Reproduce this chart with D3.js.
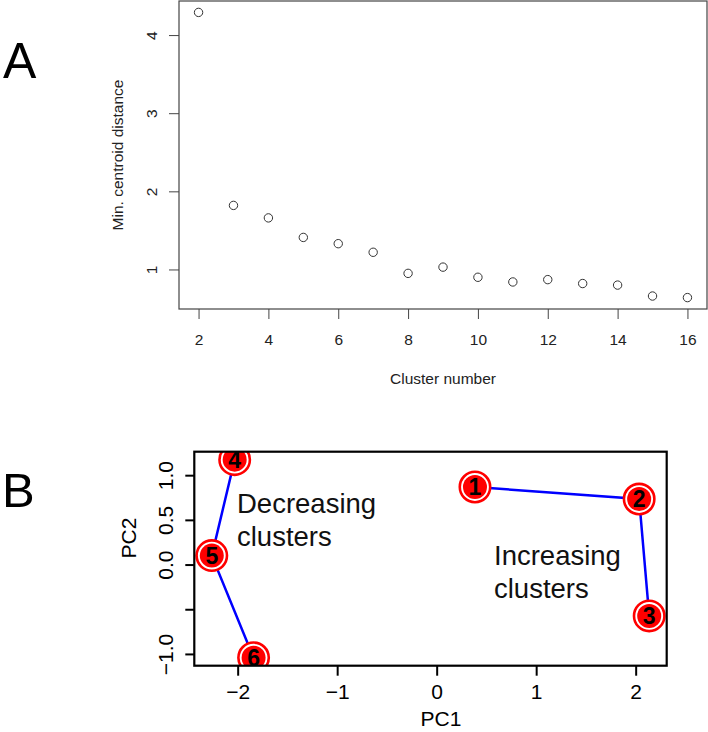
<!DOCTYPE html>
<html>
<head>
<meta charset="utf-8">
<script src="https://cdn.jsdelivr.net/npm/d3@7"></script>
<style>
  body { margin: 0; background: #fff; }
  svg { font-family: "Liberation Sans", Arial, Helvetica, sans-serif; display: block; }
</style>
</head>
<body>
<div id="chart"></div>
<script>
// Panel A data: minimum centroid distance per cluster number
const clusterNumbers = [2, 3, 4, 5, 6, 7, 8, 9, 10, 11, 12, 13, 14, 15, 16];
const minCentroidDist = [4.29, 1.82, 1.66, 1.41, 1.33, 1.22, 0.95, 1.03, 0.90, 0.84, 0.87, 0.82, 0.80, 0.66, 0.64];
const xTicksA = [2, 4, 6, 8, 10, 12, 14, 16];
const yTicksA = [1, 2, 3, 4];

// Panel B data: cluster centroids on PC1 / PC2
const clusterIds = [1, 2, 3, 4, 5, 6];
const pc1 = [0.385, 2.035, 2.136, -2.03, -2.26, -1.84];
const pc2 = [0.868, 0.733, -0.575, 1.174, 0.10, -1.043];
const groups = [[1, 2, 3], [4, 5, 6]];
const xTicksB = [-2, -1, 0, 1, 2];
const yTicksB = [-1.0, -0.5, 0.0, 0.5, 1.0];
const yLabelsB = { '-1': '\u22121.0', '0': '0.0', '0.5': '0.5', '1': '1.0' };

const width = 708;
const height = 732;

// R style range: data extent padded 4% on each side
function rDomain(vals) {
    const [lo, hi] = d3.extent(vals);
    const pad = (hi - lo) * 0.04;
    return [lo - pad, hi + pad];
}

const svg = d3.select('#chart')
    .append('svg')
    .attr('width', width)
    .attr('height', height);

// ---------- Panel A ----------
const boxA = { left: 179, right: 707, top: 1, bottom: 309 };

const xA = d3.scaleLinear()
    .domain(rDomain(clusterNumbers))
    .range([boxA.left, boxA.right]);

const yA = d3.scaleLinear()
    .domain(rDomain(minCentroidDist))
    .range([boxA.bottom, boxA.top]);

const gA = svg.append('g');

const xAxisA = gA.append('g')
    .attr('transform', `translate(0, ${boxA.bottom})`)
    .call(d3.axisBottom(xA).tickValues(xTicksA).tickSize(10).tickFormat(d3.format('d')));

const yAxisA = gA.append('g')
    .attr('transform', `translate(${boxA.left}, 0)`)
    .call(d3.axisLeft(yA).tickValues(yTicksA).tickSize(10).tickFormat(d3.format('d')));

[xAxisA, yAxisA].forEach(ax => {
    ax.select('.domain').remove();
    ax.selectAll('line').attr('stroke', '#444').attr('stroke-width', 1);
    ax.selectAll('text').attr('font-size', 15.5).attr('fill', '#222').attr('font-family', null);
});

xAxisA.selectAll('text').attr('y', 35.5).attr('dy', 0);
yAxisA.selectAll('text')
    .attr('transform', 'rotate(-90)')
    .attr('x', 0)
    .attr('y', -21.7)
    .attr('dy', 0)
    .attr('text-anchor', 'middle');

gA.append('rect')
    .attr('x', boxA.left)
    .attr('y', boxA.top)
    .attr('width', boxA.right - boxA.left)
    .attr('height', boxA.bottom - boxA.top)
    .attr('fill', 'none')
    .attr('stroke', '#444')
    .attr('stroke-width', 1.2);

gA.selectAll('.dotA')
    .data(clusterNumbers)
    .enter()
    .append('circle')
    .attr('class', 'dotA')
    .attr('cx', d => xA(d))
    .attr('cy', (d, i) => yA(minCentroidDist[i]))
    .attr('r', 4.2)
    .attr('fill', 'none')
    .attr('stroke', '#333')
    .attr('stroke-width', 1);

gA.append('text')
    .attr('x', (boxA.left + boxA.right) / 2)
    .attr('y', 384.3)
    .attr('text-anchor', 'middle')
    .attr('font-size', 15.5)
    .attr('fill', '#222')
    .text('Cluster number');

gA.append('text')
    .attr('transform', `translate(123, ${(boxA.top + boxA.bottom) / 2}) rotate(-90)`)
    .attr('text-anchor', 'middle')
    .attr('font-size', 15.5)
    .attr('fill', '#222')
    .text('Min. centroid distance');

svg.append('text')
    .attr('x', 3)
    .attr('y', 78)
    .attr('font-size', 50)
    .text('A');

// ---------- Panel B ----------
const boxB = { left: 194.3, right: 666.7, top: 451.7, bottom: 665.7 };

const xB = d3.scaleLinear()
    .domain(rDomain(pc1))
    .range([boxB.left, boxB.right]);

const yB = d3.scaleLinear()
    .domain(rDomain(pc2))
    .range([boxB.bottom, boxB.top]);

const gB = svg.append('g');

const xAxisB = gB.append('g')
    .attr('transform', `translate(0, ${boxB.bottom})`)
    .call(d3.axisBottom(xB).tickValues(xTicksB).tickSize(10)
        .tickFormat(d => d < 0 ? '\u2212' + Math.abs(d) : String(d)));

const yAxisB = gB.append('g')
    .attr('transform', `translate(${boxB.left}, 0)`)
    .call(d3.axisLeft(yB).tickValues(yTicksB).tickSize(9)
        .tickFormat(d => yLabelsB[String(d)] || ''));

[xAxisB, yAxisB].forEach(ax => {
    ax.select('.domain').remove();
    ax.selectAll('line').attr('stroke', '#000').attr('stroke-width', 2);
    ax.selectAll('text').attr('font-size', 21).attr('fill', '#000').attr('font-family', null);
});

xAxisB.selectAll('text').attr('y', 33).attr('dy', 0);
yAxisB.selectAll('text')
    .attr('transform', 'rotate(-90)')
    .attr('x', 0)
    .attr('y', -21)
    .attr('dy', 0)
    .attr('text-anchor', 'middle');

// clip markers to the plot region like R does
svg.append('defs').append('clipPath')
    .attr('id', 'clipB')
    .append('rect')
    .attr('x', boxB.left)
    .attr('y', boxB.top)
    .attr('width', boxB.right - boxB.left)
    .attr('height', boxB.bottom - boxB.top);

const plotB = gB.append('g').attr('clip-path', 'url(#clipB)');

const line = d3.line()
    .x(id => xB(pc1[id - 1]))
    .y(id => yB(pc2[id - 1]));

plotB.selectAll('.grp')
    .data(groups)
    .enter()
    .append('path')
    .attr('class', 'grp')
    .attr('d', line)
    .attr('fill', 'none')
    .attr('stroke', '#0000ff')
    .attr('stroke-width', 2.5);

const marks = plotB.selectAll('.mark')
    .data(clusterIds)
    .enter()
    .append('g')
    .attr('class', 'mark')
    .attr('transform', (d, i) => `translate(${xB(pc1[i])}, ${yB(pc2[i])})`);

marks.append('circle')
    .attr('r', 15.2)
    .attr('fill', '#fff')
    .attr('stroke', '#ff0000')
    .attr('stroke-width', 2.6);

marks.append('circle')
    .attr('r', 12)
    .attr('fill', '#ff0000');

marks.append('text')
    .attr('text-anchor', 'middle')
    .attr('dy', '0.36em')
    .attr('font-size', 23)
    .attr('font-weight', 'bold')
    .attr('fill', '#000')
    .text(d => d);

gB.append('rect')
    .attr('x', boxB.left)
    .attr('y', boxB.top)
    .attr('width', boxB.right - boxB.left)
    .attr('height', boxB.bottom - boxB.top)
    .attr('fill', 'none')
    .attr('stroke', '#000')
    .attr('stroke-width', 2.2);

const notes = [
    { lines: ['Decreasing', 'clusters'], x: 237, y: 513 },
    { lines: ['Increasing', 'clusters'], x: 494, y: 565 }
];

notes.forEach(n => {
    gB.append('text')
        .attr('x', n.x)
        .attr('y', n.y)
        .attr('font-size', 27.5)
        .attr('fill', '#111')
        .selectAll('tspan')
        .data(n.lines)
        .enter()
        .append('tspan')
        .attr('x', n.x)
        .attr('dy', (d, i) => i === 0 ? 0 : 33)
        .text(d => d);
});

gB.append('text')
    .attr('x', 441)
    .attr('y', 726)
    .attr('text-anchor', 'middle')
    .attr('font-size', 21)
    .text('PC1');

gB.append('text')
    .attr('transform', 'translate(135.5, 538) rotate(-90)')
    .attr('text-anchor', 'middle')
    .attr('font-size', 21)
    .text('PC2');

svg.append('text')
    .attr('x', 2)
    .attr('y', 507)
    .attr('font-size', 49)
    .text('B');
</script>
</body>
</html>
